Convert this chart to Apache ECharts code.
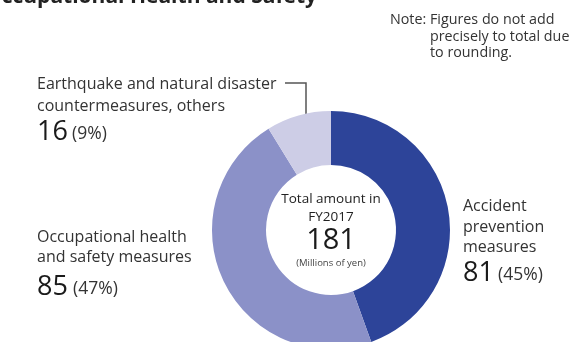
<!DOCTYPE html>
<html>
<head>
<meta charset="utf-8">
<script src="https://cdn.jsdelivr.net/npm/echarts@6/dist/echarts.min.js"></script>
<style>
  html, body { margin: 0; padding: 0; background: #fff; }
  #chart { width: 569px; height: 342px; }
</style>
</head>
<body>
<div id="chart"></div>
<script>
// Occupational health and safety spending, FY2017 (millions of yen)
const categories = [
  'Accident prevention measures',
  'Occupational health and safety measures',
  'Earthquake and natural disaster countermeasures, others'
];
const values = [81, 85, 16];
const shares = ['45%', '47%', '9%'];
const labelLines = [
  ['Accident', 'prevention', 'measures'],
  ['Occupational health', 'and safety measures'],
  ['Earthquake and natural disaster', 'countermeasures, others']
];
const totalAmount = 181;
const noteLines = ['Note: Figures do not add', 'precisely to total due', 'to rounding.'];
const colors = ['#2d4499', '#8b91c8', '#cdcde6'];

const FONT = '"Open Sans", "Noto Sans", sans-serif';
const chart = echarts.init(document.getElementById('chart'), null, { renderer: 'canvas' });

function txt(x, y, s, size, fill, extra) {
  return {
    type: 'text', x: x, y: y,
    style: Object.assign({ text: s, fontFamily: FONT, fontSize: size, fill: fill, verticalAlign: 'middle', align: 'left' }, extra || {})
  };
}

// label block: category lines, then large value and share in brackets
function labelBlock(i, x, lineMids, valueMid, shareX) {
  const els = labelLines[i].map((l, k) => txt(x, lineMids[k], l, 16, '#333'));
  els.push(txt(x, valueMid, String(values[i]), 27, '#1a1a1a'));
  els.push(txt(shareX, valueMid + 2, '(' + shares[i] + ')', 17.5, '#333'));
  return els;
}

chart.setOption({
  animation: false,
  series: [{
    type: 'pie',
    center: [331, 230],
    radius: [65, 119],
    startAngle: 90,
    clockwise: true,
    label: { show: false },
    labelLine: { show: false },
    emphasis: { disabled: true },
    itemStyle: { borderWidth: 0 },
    data: categories.map((c, i) => ({ name: c, value: values[i], itemStyle: { color: colors[i] } }))
  }],
  graphic: [
    // heading
    txt(-15, -3, 'Occupational Health and Safety', 21, '#222', { fontWeight: 'bold' }),
    // note
    txt(390, 20, noteLines[0], 14.3, '#333'),
    txt(430, 36.5, noteLines[1], 14.3, '#333'),
    txt(430, 53, noteLines[2], 14.3, '#333'),
    // category labels
    ...labelBlock(2, 37, [84, 106], 132, 72),
    ...labelBlock(1, 37, [237, 257.5], 287, 73),
    ...labelBlock(0, 463, [206, 227, 247.5], 273, 498),
    // leader line to the small slice
    { type: 'polyline', shape: { points: [[285, 83], [306, 83], [306, 116]] }, style: { stroke: '#555', lineWidth: 1.5, fill: null } },
    // centre total
    txt(331, 199, 'Total amount in', 13.5, '#222', { align: 'center' }),
    txt(331, 217, 'FY2017', 13.5, '#222', { align: 'center' }),
    txt(331, 241, String(totalAmount), 29, '#1a1a1a', { align: 'center' }),
    txt(331, 263, '(Millions of yen)', 9.5, '#444', { align: 'center' })
  ]
});
</script>
</body>
</html>
